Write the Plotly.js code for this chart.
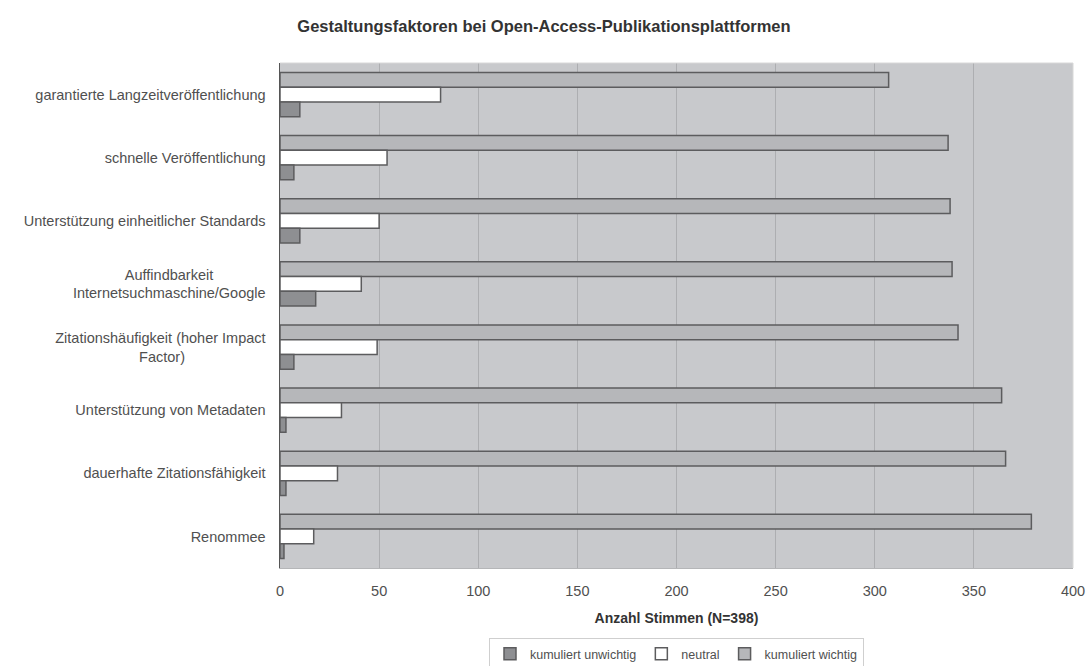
<!DOCTYPE html>
<html>
<head>
<meta charset="utf-8">
<script src="https://cdn.plot.ly/plotly-3.0.1.min.js"></script>
<style>
  html, body { margin: 0; padding: 0; background: #ffffff; }
  #chart { width: 1088px; height: 666px; }
</style>
</head>
<body>
<div id="chart"></div>
<script>
// Categories, top to bottom as shown
const categories = [
  "garantierte Langzeitveröffentlichung",
  "schnelle Veröffentlichung",
  "Unterstützung einheitlicher Standards",
  "Auffindbarkeit<br>Internetsuchmaschine/Google",
  "Zitationshäufigkeit (hoher Impact<br>Factor)",
  "Unterstützung von Metadaten",
  "dauerhafte Zitationsfähigkeit",
  "Renommee"
];
const seriesNames = ["kumuliert unwichtig", "neutral", "kumuliert wichtig"];
const kumuliertUnwichtig = [10, 7, 10, 18, 7, 3, 3, 2];
const neutral = [81, 54, 50, 41, 49, 31, 29, 17];
const kumuliertWichtig = [307, 337, 338, 339, 342, 364, 366, 379];
const xTicks = [0, 50, 100, 150, 200, 250, 300, 350, 400];

const FONT = "Liberation Sans, Arial, sans-serif";
const TICK_SIZE = 14.5;

// centre multi-line tick labels by padding shorter lines with no-break spaces
const cv = document.createElement("canvas").getContext("2d");
cv.font = TICK_SIZE + "px 'Liberation Sans'";
const spW = cv.measureText("\u00a0").width || 4;
function centreLabel(s) {
  const lines = s.split("<br>");
  if (lines.length < 2) return s;
  const w = lines.map(l => cv.measureText(l).width);
  const mx = Math.max(...w);
  return lines.map((l, i) => l + "\u00a0".repeat(Math.round((mx - w[i]) / 2 / spW))).join("<br>");
}
const tickText = categories.map(centreLabel);

const lineStyle = { color: "#5c5c5e", width: 1.5 };

// With reversed y axis, the first trace is drawn at the top of each group
const traces = [
  { name: seriesNames[2], type: "bar", orientation: "h", y: categories, x: kumuliertWichtig,
    marker: { color: "#b6b7ba", line: lineStyle }, legendrank: 3 },
  { name: seriesNames[1], type: "bar", orientation: "h", y: categories, x: neutral,
    marker: { color: "#ffffff", line: lineStyle }, legendrank: 2 },
  { name: seriesNames[0], type: "bar", orientation: "h", y: categories, x: kumuliertUnwichtig,
    marker: { color: "#8e8f92", line: lineStyle }, legendrank: 1 }
];

const layout = {
  width: 1088, height: 666,
  margin: { l: 280, r: 15, t: 63, b: 98, autoexpand: false },
  paper_bgcolor: "#ffffff",
  plot_bgcolor: "#c8c9cc",
  barmode: "group",
  bargap: 0.3,
  bargroupgap: 0,
  font: { family: FONT, color: "#505050", size: TICK_SIZE },
  title: {
    text: "<b>Gestaltungsfaktoren bei Open-Access-Publikationsplattformen</b>",
    font: { family: FONT, size: 16.5, color: "#333333" },
    x: 0.5, xref: "container", xanchor: "center",
    y: 1 - 26 / 666, yref: "container", yanchor: "middle"
  },
  xaxis: {
    range: [0, 400],
    tickvals: xTicks,
    ticktext: xTicks.map(String),
    showgrid: true, gridcolor: "#adaeb1", gridwidth: 1,
    zeroline: false,
    showline: true, linecolor: "#b5b6b8", linewidth: 1,
    ticks: "", ticklen: 0,
    ticklabelstandoff: 10,
    tickfont: { family: FONT, size: TICK_SIZE, color: "#505050" },
    title: { text: "<b>Anzahl Stimmen (N=398)</b>", font: { family: FONT, size: 14, color: "#333333" }, standoff: 14 },
    fixedrange: true
  },
  yaxis: {
    type: "category",
    autorange: "reversed",
    tickvals: categories,
    ticktext: tickText,
    showgrid: false,
    zeroline: false,
    showline: true, linecolor: "#555555", linewidth: 1.5,
    ticks: "", ticklen: 0,
    ticklabelstandoff: 10,
    tickfont: { family: FONT, size: TICK_SIZE, color: "#505050" },
    fixedrange: true
  },
  showlegend: true,
  legend: {
    orientation: "h",
    x: 0.5, xanchor: "center",
    yref: "container",
    y: 1 - 654 / 666, yanchor: "middle",
    bgcolor: "#ffffff",
    bordercolor: "#cfcfcf", borderwidth: 1,
    font: { family: FONT, size: 12.5, color: "#505050" },
    traceorder: "normal",
    itemwidth: 30,
    tracegroupgap: 0
  },
  shapes: [
    { type: "line", xref: "paper", yref: "paper", x0: 1, x1: 1, y0: 0, y1: 1, line: { color: "#d8d8d8", width: 1 } },
    { type: "line", xref: "paper", yref: "paper", x0: 0, x1: 1, y0: 1, y1: 1, line: { color: "#d8d8d8", width: 1 } }
  ]
};

Plotly.newPlot("chart", traces, layout, { displayModeBar: false, staticPlot: true });
</script>
</body>
</html>
